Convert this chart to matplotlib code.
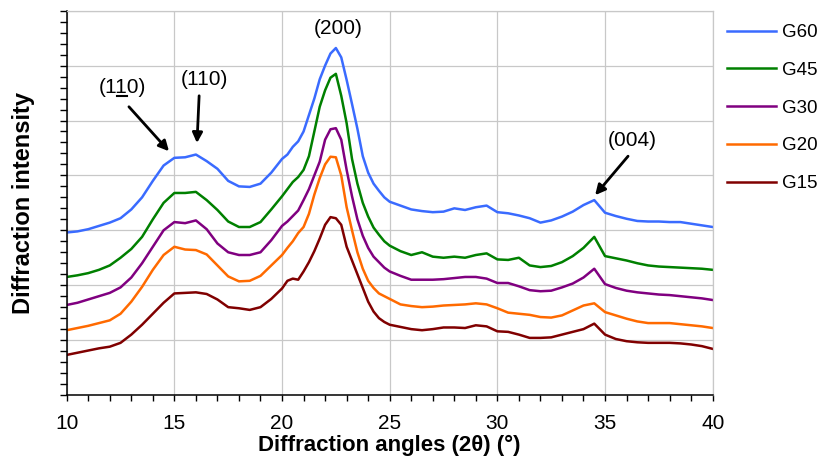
import matplotlib
matplotlib.use("Agg")
import matplotlib.pyplot as plt
from matplotlib.ticker import MultipleLocator, NullFormatter
from matplotlib.lines import Line2D

plt.rcParams['font.family'] = ['Liberation Sans', 'DejaVu Sans']

angles = [10, 10.5, 11, 11.5, 12, 12.5, 13, 13.5, 14, 14.5, 15, 15.5, 16, 16.5, 17, 17.5,
          18, 18.5, 19, 19.5,
          20, 20.25, 20.5, 20.75, 21, 21.25, 21.5, 21.75, 22, 22.25, 22.5, 22.75,
          23, 23.25, 23.5, 23.75, 24, 24.25, 24.5, 24.75,
          25, 25.5, 26, 26.5, 27, 27.5, 28, 28.5, 29, 29.5, 30, 30.5, 31, 31.5, 32, 32.5,
          33, 33.5, 34, 34.5, 35, 35.5, 36, 36.5, 37, 37.5, 38, 38.5, 39, 39.5, 40]

g60 = [2.96, 2.98, 3.02, 3.08, 3.14, 3.22, 3.38, 3.60, 3.90, 4.18, 4.32, 4.33, 4.38, 4.26, 4.12, 3.90,
       3.80, 3.79, 3.85, 4.05,
       4.30, 4.38, 4.52, 4.62, 4.80, 5.10, 5.40, 5.75, 6.00, 6.22, 6.32, 6.15,
       5.74, 5.30, 4.85, 4.35, 4.05, 3.85, 3.72, 3.60,
       3.52, 3.45, 3.38, 3.35, 3.33, 3.34, 3.40, 3.37, 3.42, 3.45, 3.33, 3.31, 3.27, 3.22, 3.14, 3.18,
       3.25, 3.34, 3.46, 3.55, 3.32, 3.26, 3.21, 3.17, 3.16, 3.16, 3.15, 3.15, 3.12, 3.09, 3.06]

g45 = [2.15, 2.18, 2.22, 2.28, 2.36, 2.50, 2.66, 2.88, 3.20, 3.50, 3.68, 3.68, 3.70, 3.55, 3.37, 3.16,
       3.06, 3.06, 3.15, 3.38,
       3.62, 3.75, 3.88, 3.97, 4.10, 4.35, 4.80, 5.25, 5.55, 5.78, 5.85, 5.45,
       4.95, 4.30, 3.85, 3.50, 3.25, 3.05, 2.92, 2.80,
       2.72, 2.62, 2.55, 2.60, 2.52, 2.50, 2.52, 2.50, 2.55, 2.58, 2.47, 2.46, 2.50, 2.36, 2.33, 2.35,
       2.42, 2.53, 2.68, 2.88, 2.53, 2.49, 2.45, 2.40, 2.36, 2.34, 2.33, 2.32, 2.31, 2.30, 2.28]

g30 = [1.64, 1.68, 1.74, 1.80, 1.86, 1.96, 2.14, 2.40, 2.70, 3.00, 3.15, 3.13, 3.18, 3.02, 2.76, 2.60,
       2.55, 2.55, 2.60, 2.82,
       3.08, 3.16, 3.26, 3.36, 3.55, 3.75, 4.00, 4.25, 4.65, 4.84, 4.86, 4.65,
       4.10, 3.62, 3.20, 2.90, 2.68, 2.52, 2.42, 2.32,
       2.25, 2.17, 2.10, 2.10, 2.10, 2.11, 2.13, 2.15, 2.15, 2.12, 2.04, 2.04, 1.98, 1.91, 1.89, 1.90,
       1.96, 2.03, 2.14, 2.30, 2.02, 1.95, 1.90, 1.87, 1.85, 1.83, 1.82, 1.80, 1.78, 1.76, 1.73]

g20 = [1.18, 1.22, 1.26, 1.31, 1.36, 1.48, 1.70, 1.97, 2.28, 2.55, 2.70, 2.65, 2.64, 2.56, 2.36, 2.16,
       2.07, 2.08, 2.17, 2.36,
       2.55, 2.68, 2.80, 2.95, 3.06, 3.30, 3.65, 3.95, 4.20, 4.34, 4.33, 4.00,
       3.42, 3.00, 2.60, 2.30, 2.08, 1.95, 1.85, 1.80,
       1.75, 1.65, 1.62, 1.60, 1.61, 1.63, 1.64, 1.65, 1.67, 1.65, 1.58, 1.50, 1.48, 1.46, 1.42, 1.41,
       1.45, 1.54, 1.63, 1.67, 1.51, 1.45, 1.39, 1.34, 1.31, 1.31, 1.31, 1.29, 1.27, 1.25, 1.22]

g15 = [0.73, 0.77, 0.81, 0.85, 0.88, 0.95, 1.10, 1.28, 1.48, 1.68, 1.85, 1.86, 1.87, 1.84, 1.74, 1.60,
       1.58, 1.55, 1.60, 1.75,
       1.94, 2.08, 2.12, 2.10, 2.25, 2.42, 2.62, 2.85, 3.10, 3.24, 3.22, 3.10,
       2.70, 2.45, 2.20, 1.95, 1.70, 1.52, 1.40, 1.33,
       1.28, 1.24, 1.20, 1.18, 1.20, 1.23, 1.23, 1.22, 1.27, 1.25, 1.16, 1.15, 1.10, 1.04, 1.04, 1.05,
       1.10, 1.15, 1.20, 1.30, 1.10, 1.02, 0.98, 0.96, 0.95, 0.95, 0.95, 0.94, 0.92, 0.89, 0.84]

series_names = ["G60", "G45", "G30", "G20", "G15"]
series_values = [g60, g45, g30, g20, g15]
series_colors = ["#3a6bff", "#008000", "#800080", "#ff6a00", "#800000"]

xticks = [10, 15, 20, 25, 30, 35, 40]

W, H = 823, 463
fig = plt.figure(figsize=(W / 100, H / 100), dpi=100)
ax = fig.add_axes([66.7 / W, (H - 395) / H, (712.7 - 66.7) / W, (395 - 10.7) / H])

for name, vals, col in zip(series_names, series_values, series_colors):
    ax.plot(angles, vals, color=col, lw=1.8, label=name)

ax.set_xlim(10, 40)
ax.set_ylim(0, 7)
ax.set_xticks(xticks)
ax.xaxis.set_minor_locator(MultipleLocator(1))
ax.yaxis.set_major_locator(MultipleLocator(1))
ax.yaxis.set_minor_locator(MultipleLocator(0.2))
ax.yaxis.set_major_formatter(NullFormatter())
ax.tick_params(axis='both', which='both', direction='out', color='black', width=1)
ax.tick_params(axis='y', which='both', length=5)
ax.tick_params(axis='x', which='both', length=4, labelsize=15, pad=10)
ax.grid(True, which='major', color='#c8c8c8', lw=0.9)
ax.set_axisbelow(True)
for s in ['top', 'right']:
    ax.spines[s].set_color('#c8c8c8')
    ax.spines[s].set_linewidth(0.9)
for s in ['left', 'bottom']:
    ax.spines[s].set_color('black')
    ax.spines[s].set_linewidth(1.1)

ax.set_xlabel("Diffraction angles (2θ) (°)", fontsize=16, fontweight='bold', labelpad=1)
ax.set_ylabel("Diffraction intensity", fontsize=17, fontweight='bold', labelpad=14)

aprops = dict(arrowstyle='-|>', color='black', lw=2, mutation_scale=15, shrinkA=0, shrinkB=0)
ax.annotate("", xy=(14.75, 4.44), xytext=(12.89, 5.25), arrowprops=aprops)
ax.annotate("", xy=(16.05, 4.59), xytext=(16.15, 5.45), arrowprops=aprops)
ax.annotate("", xy=(34.54, 3.64), xytext=(36.07, 4.35), arrowprops=aprops)

t1 = ax.text(12.57, 5.61, "(110)", fontsize=15, ha='center', va='center')
ax.text(16.38, 5.74, "(110)", fontsize=15, ha='center', va='center')
ax.text(22.6, 6.68, "(200)", fontsize=15, ha='center', va='center')
ax.text(36.26, 4.64, "(004)", fontsize=15, ha='center', va='center')

leg = ax.legend(loc='upper left', bbox_to_anchor=(727 / W, 1 - 24 / H), bbox_transform=fig.transFigure,
                frameon=False, fontsize=13.5, handlelength=2.6, handletextpad=0.35,
                labelspacing=1.1, borderpad=0, borderaxespad=0)
for h in leg.get_lines():
    h.set_linewidth(1.8)

# underline below the second "1" of the first (110) label
fig.canvas.draw()
bb = t1.get_window_extent()
x0 = bb.x0 + bb.width * 0.39
x1 = bb.x0 + bb.width * 0.61
yb = bb.y0 + 1
fig.add_artist(Line2D([x0 / W, x1 / W], [yb / H, yb / H], transform=fig.transFigure,
                      color='black', lw=1.5))

fig.savefig("out.png", dpi=100)
